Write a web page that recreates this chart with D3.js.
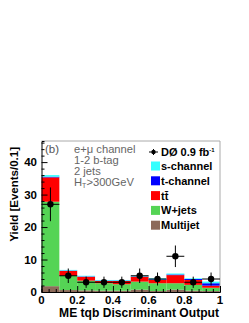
<!DOCTYPE html>
<html>
<head>
<meta charset="utf-8">
<script src="https://cdn.jsdelivr.net/npm/d3@7"></script>
<style>
  body { margin: 0; background: #fff; }
  text { font-family: "Liberation Sans", Arial, sans-serif; }
</style>
</head>
<body>
<div id="chart"></div>
<script>
// bin edges and stacked backgrounds (bottom to top)
const binStarts = [0, 0.1, 0.2, 0.3, 0.4, 0.5, 0.6, 0.7, 0.8, 0.9];
const multijet = [1.8, 0.6, 0.5, 0.4, 0.4, 0.7, 0.3, 0.7, 0.4, 0.3];
const wjets    = [26.0, 4.4, 3.0, 2.3, 2.0, 2.5, 2.4, 2.0, 1.8, 1.0];
const ttbar    = [7.5, 1.5, 1.2, 0.7, 1.0, 1.5, 1.0, 2.5, 1.5, 0.65];
const tchan    = [0.2, 0.1, 0.1, 0.1, 0.1, 0.1, 0.2, 0.2, 0.3, 0.75];
const schan    = [0.5, 0.2, 0.2, 0.2, 0.2, 0.2, 0.3, 0.3, 0.2, 0.5];
const dataCounts = [27, 5, 3, 3, 3, 5, 4, 11, 3, 4];

const xTicks = [0, 0.2, 0.4, 0.6, 0.8, 1];
const yTicks = [0, 10, 20, 30, 40];

const components = [
    { name: 'Multijet', values: multijet, color: '#8c6a5a' },
    { name: 'W+jets', values: wjets, color: '#55d455' },
    { name: 'ttbar', values: ttbar, color: '#ff0000' },
    { name: 't-channel', values: tchan, color: '#0000ff' },
    { name: 's-channel', values: schan, color: '#33ffff' }
];

const width = 249, height = 323;
const mLeft = 41.5, mRight = 220, mTop = 141, mBottom = 292;

const svg = d3.select('#chart').append('svg')
    .attr('width', width)
    .attr('height', height);

const x = d3.scaleLinear().domain([0, 1]).range([mLeft, mRight]);
const y = d3.scaleLinear().domain([0, 46.5]).range([mBottom, mTop]);

// build stacked rows
const rows = binStarts.map((b, i) => {
    const r = { bin: b };
    components.forEach(c => { r[c.name] = c.values[i]; });
    return r;
});
const stack = d3.stack().keys(components.map(c => c.name))(rows);

svg.append('g').attr('class', 'hists')
    .selectAll('g')
    .data(stack)
    .enter()
    .append('g')
    .attr('fill', (d, i) => components[i].color)
    .selectAll('rect')
    .data(d => d)
    .enter()
    .append('rect')
    .attr('x', d => x(d.data.bin))
    .attr('width', x(0.1) - x(0))
    .attr('y', d => y(d[1]))
    .attr('height', d => y(d[0]) - y(d[1]));

// frame: top and right in grey
svg.append('line').attr('x1', mLeft).attr('x2', mRight).attr('y1', mTop).attr('y2', mTop)
    .attr('stroke', '#aaa');
svg.append('line').attr('x1', mRight).attr('x2', mRight).attr('y1', mTop).attr('y2', mBottom)
    .attr('stroke', '#aaa');

// axes with inward ticks
const yAxis = svg.append('g').attr('transform', `translate(${mLeft},0)`);
yAxis.call(d3.axisRight(y).tickValues(d3.range(0, 47, 2)).tickSize(3).tickFormat(''));
yAxis.selectAll('.tick line').filter(d => d % 10 === 0).attr('x2', 6);
yAxis.select('.domain').attr('stroke', '#000');

const xAxis = svg.append('g').attr('transform', `translate(0,${mBottom})`);
xAxis.call(d3.axisTop(x).tickValues(d3.range(0, 1.001, 0.04)).tickSize(3).tickFormat(''));
xAxis.selectAll('.tick line').filter(d => Math.abs(d * 5 - Math.round(d * 5)) < 1e-6).attr('y2', -6);
xAxis.select('.domain').attr('stroke', '#000');

svg.append('g').selectAll('text')
    .data(yTicks).enter().append('text')
    .attr('x', 37).attr('y', d => y(d) + 4)
    .attr('text-anchor', 'end')
    .attr('font-size', 11.5).attr('font-weight', 'bold')
    .text(d => d);

svg.append('g').selectAll('text')
    .data(xTicks).enter().append('text')
    .attr('x', d => x(d)).attr('y', 304)
    .attr('text-anchor', 'middle')
    .attr('font-size', 11.5).attr('font-weight', 'bold')
    .text(d => d);

// axis titles
svg.append('text')
    .attr('transform', 'translate(18,147) rotate(-90)')
    .attr('text-anchor', 'end')
    .attr('font-size', 11.5).attr('font-weight', 'bold')
    .text('Yield [Events/0.1]');

svg.append('text')
    .attr('x', 219).attr('y', 317)
    .attr('text-anchor', 'end')
    .attr('font-size', 12.1).attr('font-weight', 'bold')
    .text('ME tqb Discriminant Output');

// data points with errors
const pts = svg.append('g').attr('class', 'data')
    .selectAll('g')
    .data(dataCounts.map((n, i) => ({ n, bin: binStarts[i] })))
    .enter().append('g');

pts.append('line')
    .attr('x1', d => x(d.bin)).attr('x2', d => x(d.bin + 0.1))
    .attr('y1', d => y(d.n)).attr('y2', d => y(d.n))
    .attr('stroke', '#000');
pts.append('line')
    .attr('x1', d => x(d.bin + 0.05)).attr('x2', d => x(d.bin + 0.05))
    .attr('y1', d => y(d.n + Math.sqrt(d.n))).attr('y2', d => y(d.n - Math.sqrt(d.n)))
    .attr('stroke', '#000');
pts.append('circle')
    .attr('cx', d => x(d.bin + 0.05)).attr('cy', d => y(d.n))
    .attr('r', 3.2).attr('fill', '#000');

// channel labels
const info = ['e+\u03bc channel', '1-2 b-tag', '2 jets'];
svg.append('text').attr('x', 45).attr('y', 153)
    .attr('font-size', 11.5).attr('fill', '#555').text('(b)');
svg.append('g').selectAll('text')
    .data(info).enter().append('text')
    .attr('x', 74).attr('y', (d, i) => 153 + i * 11)
    .attr('font-size', 11.2).attr('fill', '#666')
    .text(d => d);
const ht = svg.append('text').attr('x', 74).attr('y', 186)
    .attr('font-size', 11.2).attr('fill', '#666');
ht.append('tspan').text('H');
ht.append('tspan').attr('font-size', 7).attr('dy', 2).text('T');
ht.append('tspan').attr('dy', -2).text('>300GeV');

// legend
const legend = svg.append('g').attr('class', 'legend');
legend.append('line').attr('x1', 149).attr('x2', 158).attr('y1', 152).attr('y2', 152).attr('stroke', '#000');
legend.append('line').attr('x1', 153.5).attr('x2', 153.5).attr('y1', 149).attr('y2', 155).attr('stroke', '#000');
legend.append('circle').attr('cx', 153.5).attr('cy', 152).attr('r', 2.2).attr('fill', '#000');
const dz = legend.append('text').attr('x', 161).attr('y', 156)
    .attr('font-size', 11).attr('font-weight', 'bold');
dz.append('tspan').text('D\u00d8 0.9 fb');
dz.append('tspan').attr('font-size', 6).attr('dy', -4).text('-1');

const legendItems = [
    { label: 's-channel', color: '#33ffff' },
    { label: 't-channel', color: '#0000ff' },
    { label: 'tt\u0304', color: '#ff0000' },
    { label: 'W+jets', color: '#55d455' },
    { label: 'Multijet', color: '#8c6a5a' }
];
const li = legend.selectAll('g.item')
    .data(legendItems).enter().append('g')
    .attr('class', 'item')
    .attr('transform', (d, i) => `translate(0,${166 + i * 14.8})`);
li.append('rect').attr('x', 151).attr('y', -4.5).attr('width', 9).attr('height', 9)
    .attr('fill', d => d.color);
li.append('text').attr('x', 161).attr('y', 4)
    .attr('font-size', 11).attr('font-weight', 'bold')
    .text(d => d.label);
</script>
</body>
</html>
